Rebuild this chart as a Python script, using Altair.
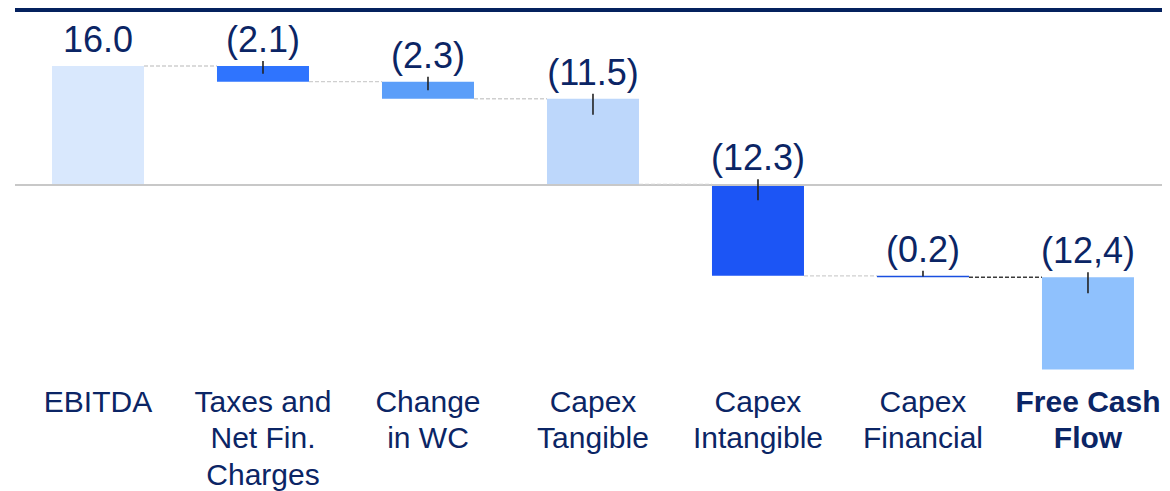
import altair as alt
import pandas as pd

categories = ["EBITDA", "Taxes and\nNet Fin.\nCharges", "Change\nin WC", "Capex\nTangible",
              "Capex\nIntangible", "Capex\nFinancial", "Free Cash\nFlow"]
values = [16.0, -2.1, -2.3, -11.5, -12.3, -0.2, -12.4]
value_labels = ["16.0", "(2.1)", "(2.3)", "(11.5)", "(12.3)", "(0.2)", "(12,4)"]
bar_colors = ["#d9e8fd", "#2f74fe", "#5b9ef9", "#bdd7fb", "#1c55f5", "#1a4fe0", "#8fc1fd"]

# waterfall: each bar hangs from the running total of the previous bars
rows = []
running = 0.0
for i, (c, v, lab, col) in enumerate(zip(categories, values, value_labels, bar_colors)):
    start = running
    end = running + v
    running = end
    rows.append({"cat": c, "value": v, "label": lab, "start": start, "end": end,
                 "top": max(start, end), "h": abs(v), "idx": i, "color": col})
df = pd.DataFrame(rows)

conn = pd.DataFrame([
    {"cat": categories[i], "next": categories[i + 1], "level": rows[i]["end"],
     "color": "#3a3a3a" if i == len(categories) - 2 else "#cfcfcf"}
    for i in range(len(categories) - 1)
])

NAVY = "#0b2565"
FONT = "Liberation Sans"

xscale = alt.Scale(domain=categories, paddingInner=0.4424, paddingOuter=0.197, align=0.569)
yscale = alt.Scale(domain=[-25, 23.8], nice=False, zero=False)

x_axis = alt.Axis(
    title=None, ticks=False, domain=False, labelAngle=0, labelPadding=16,
    labelFont=FONT, labelFontSize=30, labelColor=NAVY, labelLineHeight=36.5,
    labelBaseline="top", labelLimit=400, labelExpr="split(datum.label, '\\n')",
    labelFontWeight={"condition": {"test": "indexof(datum.value, 'Free') >= 0", "value": "bold"}, "value": "normal"},
)

base = alt.Chart(df)

bars = base.mark_bar().encode(
    x=alt.X("cat:N", scale=xscale, axis=x_axis, sort=categories),
    y=alt.Y("start:Q", scale=yscale, axis=None),
    y2="end:Q",
    color=alt.Color("color:N", scale=None),
)

zero = base.transform_filter("datum.idx == 0").mark_rule(color="#c8c8c8", strokeWidth=2).encode(
    y=alt.datum(0)
)

topline = base.transform_filter("datum.idx == 0").mark_rule(color="#04215e", strokeWidth=4).encode(
    y=alt.value(2)
)

connectors = alt.Chart(conn).mark_rule(strokeWidth=1.3, strokeDash=[4, 2], xOffset=46, x2Offset=-46).encode(
    x=alt.X("cat:N", scale=xscale, sort=categories),
    x2="next:N",
    y=alt.Y("level:Q", scale=yscale),
    color=alt.Color("color:N", scale=None),
)

ticks = base.transform_filter("datum.value < 0").transform_calculate(
    t1="datum.top + 0.67", t2="datum.top - min(datum.h / 2, 2.15)"
).mark_rule(color="#222222", strokeWidth=1.6).encode(
    x=alt.X("cat:N", scale=xscale, sort=categories),
    y=alt.Y("t1:Q", scale=yscale),
    y2="t2:Q",
)

labels = base.mark_text(dy=-14, baseline="alphabetic", align="center", font=FONT, fontSize=36, color=NAVY).encode(
    x=alt.X("cat:N", scale=xscale, sort=categories),
    y=alt.Y("top:Q", scale=yscale),
    text="label:N",
)

chart = alt.layer(bars, zero, topline, connectors, ticks, labels).properties(
    width=1147, height=363,
    padding={"left": 7, "top": 0, "right": 0, "bottom": 120},
    autosize=alt.AutoSizeParams(type="none"),
).configure_view(stroke=None)

chart.save("out.html", embed_options={"renderer": "svg", "actions": False})
